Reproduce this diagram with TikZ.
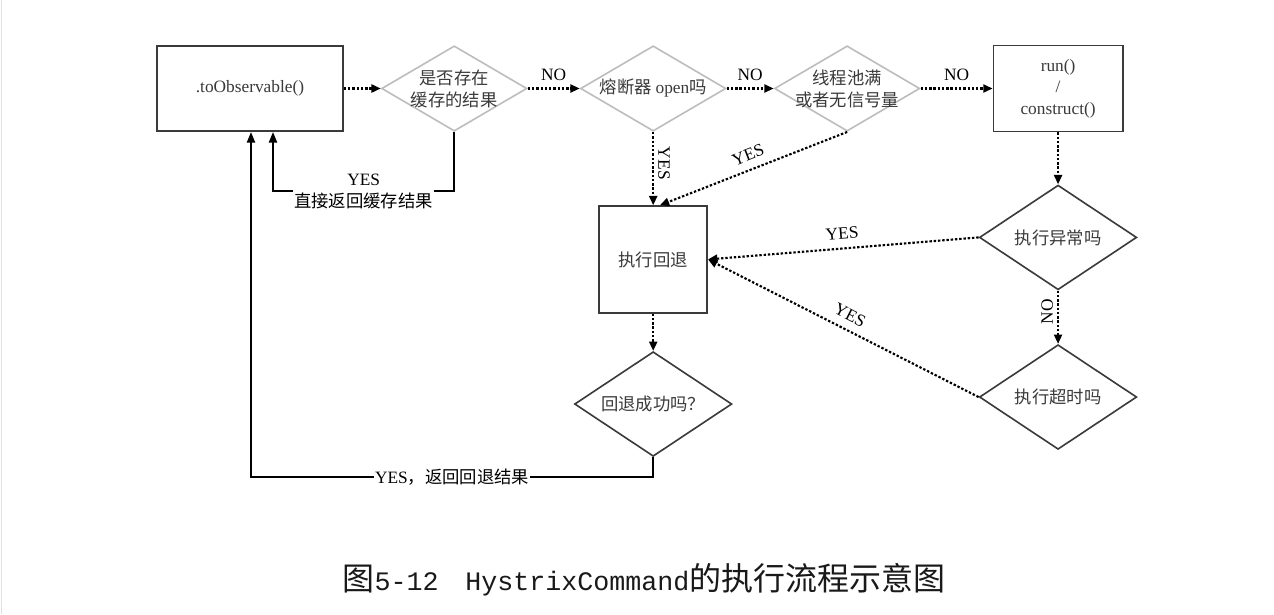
\documentclass[tikz,border=0pt]{standalone}
\usepackage{fontspec}
\setmainfont{Liberation Serif}
\newfontfamily\zhfont{Noto Sans CJK SC}
\newfontfamily\capmono{Liberation Mono}
\newcommand{\zh}[1]{{\zhfont #1}}
\usetikzlibrary{arrows.meta,positioning,shapes.geometric}
\definecolor{ink}{HTML}{3A3A3A}
\definecolor{rim}{HTML}{BDBDBD}

\begin{document}
\begin{tikzpicture}[x=0.75pt,y=-0.75pt,
  box/.style={draw=ink,line width=1.2pt,text=ink,align=center,
    font=\fontsize{13}{16}\selectfont},
  dec/.style={diamond,draw=ink,line width=1.2pt,minimum width=118pt,
    minimum height=78.5pt,inner sep=0pt},
  gdec/.style={dec,draw=rim,minimum width=109pt,minimum height=64pt},
  every label/.style={text=ink,align=center,
    font=\fontsize{13}{16.5}\selectfont\zhfont},
  flow/.style={-{Triangle[length=7pt,width=6pt]},line width=1.6pt,
    dash pattern=on 1.8pt off 1.4pt},
  ret/.style={-{Triangle[length=8pt,width=6pt]},line width=1.6pt},
  lbl/.style={font=\fontsize{13}{16.5}\selectfont,inner sep=3pt}
]
  \path[fill=white,use as bounding box] (0,0) rectangle (1274,614);
  \draw[black!12,line width=1pt] (1.5,0) -- (1.5,614);

  \node[box,minimum width=139.5pt,minimum height=64pt] (obs) at (250,88.5)
    {.toObservable()};
  \node[gdec,right=27.75pt of obs,label=center:是否存在\\缓存的结果] (cache) {};
  \node[gdec,right=39pt of cache,label=center:熔断器 {\rmfamily open}吗] (brk) {};
  \node[gdec,right=35.25pt of brk,label=center:线程池满\\或者无信号量] (pool) {};
  \node[box,right=54pt of pool,minimum width=97pt,minimum height=64.5pt] (run)
    {run()\\/\\construct()};
  \node[dec,below=39pt of run,label=center:执行异常吗] (exc) {};
  \node[dec,below=40pt of exc,label=center:执行超时吗] (tmo) {};
  \node[box,below=55pt of brk,minimum width=81pt,minimum height=80pt] (fb)
    {\zh{执行回退}};
  \node[dec,below=28pt of fb,label=center:回退成功吗？] (ok) {};
  \coordinate (hit) at (273,191);
  \coordinate (back) at (251,477);

  \draw[flow] (obs) -- (cache);
  \draw[flow] (cache) -- node[lbl,above=2pt]{NO} (brk);
  \draw[flow] (brk) -- node[lbl,above=2pt]{NO} (pool);
  \draw[flow] (pool) -- node[lbl,above=2pt]{NO} (run);
  \draw[flow] (run) -- (exc);
  \draw[flow] (exc) -- node[lbl,rotate=90,above=4pt]{NO} (tmo);
  \draw[flow] (brk) -- node[lbl,rotate=-90,above=4pt]{YES} (fb);
  \draw[flow] (pool.south) -- node[lbl,sloped,above=3pt]{YES} ([xshift=5pt]fb.north);
  \draw[flow] (exc.west) -- node[lbl,sloped,above=3pt]{YES} (fb.east);
  \draw[flow] (tmo.west) -- node[lbl,sloped,above=3pt]{YES} (fb.east);
  \draw[flow] (fb) -- (ok);
  \draw[ret] (cache.south) |- node[lbl,pos=0.75,fill=white,inner sep=1pt,
    align=center]{YES\\\zh{直接返回缓存结果}} (hit) -- (hit |- obs.south);
  \draw[ret] (ok.south) |- node[lbl,pos=0.75,fill=white,inner sep=1pt]
    {YES\zh{，返回回退结果}} (back) -- (back |- obs.south);

  \node[font=\fontsize{24}{28}\selectfont\zhfont,text=black!90] (cap) at (644,580)
    {图{\fontsize{20}{28}\selectfont\capmono 5-12\hspace{1em}HystrixCommand}的执行流程示意图};
\end{tikzpicture}
\end{document}
